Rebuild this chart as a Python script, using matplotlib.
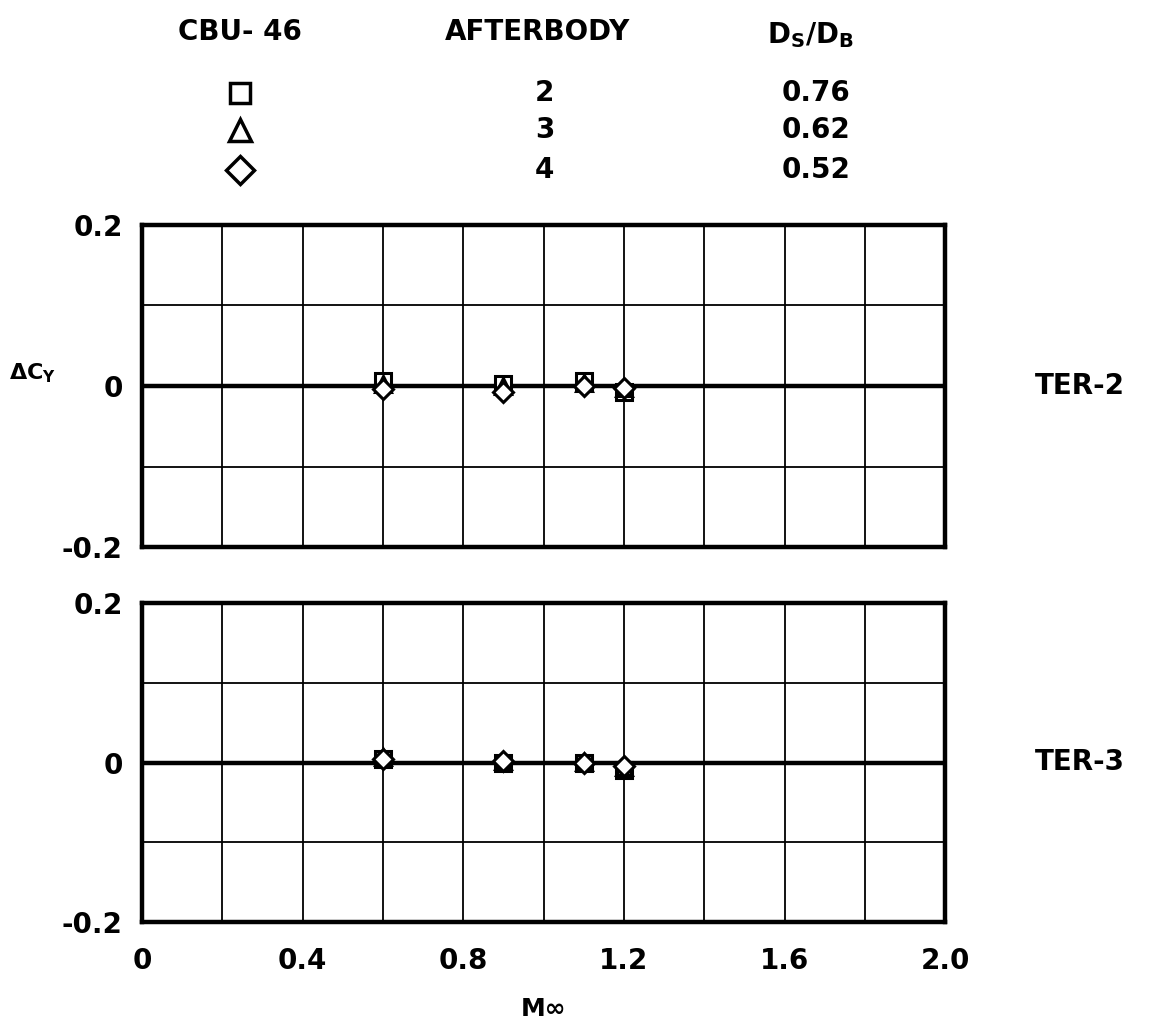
import numpy as np
import matplotlib.pyplot as plt

# Mach numbers tested
mach = [0.6, 0.9, 1.1, 1.2]

# delta CY, TER-2 panel
ter2_ab2 = [0.006, 0.002, 0.006, -0.008]
ter2_ab3 = [0.003, 0.000, 0.004, -0.003]
ter2_ab4 = [-0.004, -0.008, 0.000, -0.002]

# delta CY, TER-3 panel
ter3_ab2 = [0.004, 0.000, 0.000, -0.010]
ter3_ab3 = [0.007, 0.002, 0.001, -0.006]
ter3_ab4 = [0.005, 0.002, 0.000, -0.004]

afterbody = ['2', '3', '4']
ds_db = ['0.76', '0.62', '0.52']
markers = ['s', '^', 'D']
marker_sizes = [11, 12, 10]

x_ticks = [0, 0.4, 0.8, 1.2, 1.6, 2.0]
x_ticklabels = ['0', '0.4', '0.8', '1.2', '1.6', '2.0']
y_ticks = [-0.2, 0, 0.2]
y_ticklabels = ['-0.2', '0', '0.2']

plt.rcParams['font.family'] = 'DejaVu Sans'
plt.rcParams['font.weight'] = 'bold'

fig = plt.figure(figsize=(11.49, 10.24), dpi=100)
ax_top = fig.add_axes([0.1236, 0.4658, 0.699, 0.3145])
ax_bot = fig.add_axes([0.1236, 0.0996, 0.699, 0.3115])


def style_panel(ax, show_x):
    ax.set_xlim(0, 2.0)
    ax.set_ylim(-0.2, 0.2)
    # grid lines every 0.2 in x and 0.1 in y
    ax.set_xticks(np.arange(0, 2.01, 0.2), minor=True)
    ax.set_yticks([-0.1, 0.1], minor=True)
    ax.grid(True, which='both', color='black', linewidth=1.3)
    ax.axhline(0, color='black', linewidth=3.2, zorder=2)
    for s in ax.spines.values():
        s.set_linewidth(3.2)
    ax.tick_params(which='both', length=0)
    ax.tick_params(axis='y', pad=14, labelsize=20)
    ax.tick_params(axis='x', pad=18, labelsize=20)
    ax.set_yticks(y_ticks)
    ax.set_yticklabels(y_ticklabels, fontweight='bold')
    ax.set_xticks(x_ticks)
    if show_x:
        ax.set_xticklabels(x_ticklabels, fontweight='bold')
    else:
        ax.set_xticklabels([])


style_panel(ax_top, False)
style_panel(ax_bot, True)

top_series = [ter2_ab2, ter2_ab3, ter2_ab4]
bot_series = [ter3_ab2, ter3_ab3, ter3_ab4]
for vals, m, ms in zip(top_series, markers, marker_sizes):
    ax_top.plot(mach, vals, linestyle='none', marker=m, ms=ms, mfc='white',
                mec='black', mew=2.2, zorder=5)
for vals, m, ms in zip(bot_series, markers, marker_sizes):
    ax_bot.plot(mach, vals, linestyle='none', marker=m, ms=ms, mfc='white',
                mec='black', mew=2.2, zorder=5)

ax_bot.set_xlabel('M∞', fontsize=18, fontweight='bold', labelpad=16)
fig.text(0.008, 0.636, r'$\mathbf{\Delta C_Y}$', fontsize=16, ha='left', va='center')

fig.text(0.94, 0.623, 'TER-2', fontsize=20, fontweight='bold', ha='center', va='center')
fig.text(0.94, 0.256, 'TER-3', fontsize=20, fontweight='bold', ha='center', va='center')

# legend table at top
fig.text(0.209, 0.969, 'CBU- 46', fontsize=20, fontweight='bold', ha='center', va='center')
fig.text(0.468, 0.969, 'AFTERBODY', fontsize=20, fontweight='bold', ha='center', va='center')
fig.text(0.705, 0.966, r'D$_\mathbf{S}$/D$_\mathbf{B}$', fontsize=20, fontweight='bold',
         ha='center', va='center')
row_y = [0.909, 0.873, 0.834]
for m, ms, ab, ds, y in zip(markers, marker_sizes, afterbody, ds_db, row_y):
    fig.lines.append(plt.Line2D([0.209], [y], transform=fig.transFigure, marker=m,
                                ms=ms + 4, mfc='white', mec='black', mew=2.5,
                                linestyle='none'))
    fig.text(0.474, y, ab, fontsize=20, fontweight='bold', ha='center', va='center')
    fig.text(0.710, y, ds, fontsize=20, fontweight='bold', ha='center', va='center')

fig.savefig('out.png', dpi=100)
